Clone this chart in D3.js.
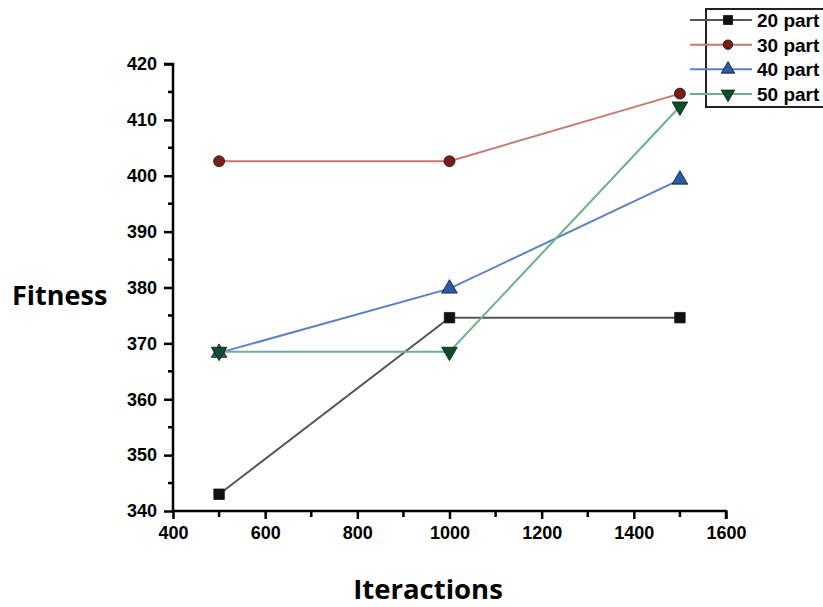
<!DOCTYPE html>
<html>
<head>
<meta charset="utf-8">
<script src="https://cdn.jsdelivr.net/npm/d3@7"></script>
<style>
  body { margin: 0; background: #fff; }
  svg { display: block; }
</style>
</head>
<body>
<svg id="chart" width="823" height="607"></svg>
<script>
// iterations on x, fitness on y
var iterations = [500, 1000, 1500];
var fit20 = [343.0, 374.6, 374.6];
var fit30 = [402.6, 402.6, 414.7];
var fit40 = [368.3, 379.8, 399.3];
var fit50 = [368.5, 368.5, 412.4];
var seriesNames = ["20 part", "30 part", "40 part", "50 part"];
var xTicks = [400, 600, 800, 1000, 1200, 1400, 1600];
var yTicks = [340, 350, 360, 370, 380, 390, 400, 410, 420];

var series = [
  { name: seriesNames[0], values: fit20, line: "#555555", fill: "#111111", sym: d3.symbolSquare, size: 110, rot: 0 },
  { name: seriesNames[1], values: fit30, line: "#c57a74", fill: "#7e1d17", sym: d3.symbolCircle, size: 95, rot: 0 },
  { name: seriesNames[2], values: fit40, line: "#5a82c4", fill: "#2a5aa8", sym: d3.symbolTriangle, size: 105, rot: 0 },
  { name: seriesNames[3], values: fit50, line: "#6fae8e", fill: "#0c4f26", sym: d3.symbolTriangle, size: 105, rot: 180 }
];

var svg = d3.select("#chart");
var x = d3.scaleLinear().domain([400, 1600]).range([173, 726]);
var y = d3.scaleLinear().domain([340, 420]).range([511, 64]);

// axes
var xAxis = svg.append("g").attr("transform", "translate(0,511)")
  .call(d3.axisBottom(x).tickValues(xTicks).tickSize(8).tickPadding(7).tickFormat(d3.format("d")));
var yAxis = svg.append("g").attr("transform", "translate(173,0)")
  .call(d3.axisLeft(y).tickValues(yTicks).tickSize(9).tickPadding(7).tickFormat(d3.format("d")));

[xAxis, yAxis].forEach(function(g) {
  g.select(".domain").attr("stroke", "#000").attr("stroke-width", 2.5);
  g.selectAll(".tick line").attr("stroke", "#000").attr("stroke-width", 2.5);
  g.selectAll(".tick text").attr("fill", "#000")
    .style("font-family", "Liberation Sans, Arial, sans-serif")
    .style("font-size", "18px").style("font-weight", "bold");
});
yAxis.select(".domain").attr("d", "M0," + y(340) + "V" + y(420) + "H-9");
xAxis.select(".domain").attr("d", "M" + x(400) + ",0H" + x(1600) + "V8");

// minor ticks
var xMinor = d3.range(500, 1600, 200);
svg.append("g").selectAll("line").data(xMinor).enter().append("line")
  .attr("x1", d => x(d)).attr("x2", d => x(d))
  .attr("y1", 511).attr("y2", 517)
  .attr("stroke", "#000").attr("stroke-width", 2.5);
var yMinor = d3.range(345, 420, 10);
svg.append("g").selectAll("line").data(yMinor).enter().append("line")
  .attr("x1", 168).attr("x2", 173)
  .attr("y1", d => y(d)).attr("y2", d => y(d))
  .attr("stroke", "#000").attr("stroke-width", 2.5);

// lines
var line = d3.line().x((d, i) => x(iterations[i])).y(d => y(d));
series.forEach(function(s) {
  svg.append("path").datum(s.values)
    .attr("d", line).attr("fill", "none")
    .attr("stroke", s.line).attr("stroke-width", 2);
});
series.forEach(function(s) {
  svg.append("g").selectAll("path").data(s.values).enter().append("path")
    .attr("d", d3.symbol().type(s.sym).size(s.size))
    .attr("transform", (d, i) => "translate(" + x(iterations[i]) + "," + y(d) + ") rotate(" + s.rot + ")")
    .attr("fill", s.fill).attr("stroke", "#0a1a10").attr("stroke-width", 0.8);
});

// legend
var leg = svg.append("g");
leg.append("rect").attr("x", 706).attr("y", 9).attr("width", 130).attr("height", 98)
  .attr("fill", "#fff").attr("stroke", "#222").attr("stroke-width", 2);
var legY = d3.scalePoint().domain(seriesNames).range([20, 94]);
series.forEach(function(s) {
  var ly = legY(s.name);
  leg.append("line").attr("x1", 690).attr("x2", 752).attr("y1", ly).attr("y2", ly)
    .attr("stroke", s.line).attr("stroke-width", 2);
  leg.append("path")
    .attr("d", d3.symbol().type(s.sym).size(s.size * 0.75))
    .attr("transform", "translate(728," + ly + ") rotate(" + s.rot + ")")
    .attr("fill", s.fill).attr("stroke", "#0a1a10").attr("stroke-width", 0.8);
  leg.append("text").attr("x", 757).attr("y", ly + 7).text(s.name)
    .style("font-family", "Liberation Sans, Arial, sans-serif")
    .style("font-size", "19px").style("font-weight", "bold").attr("fill", "#000");
});

// axis titles
svg.append("text").attr("x", 12).attr("y", 305).text("Fitness")
  .style("font-family", "Open Sans, sans-serif").style("font-size", "27px").style("font-weight", "bold");
svg.append("text").attr("x", 428).attr("y", 599).attr("text-anchor", "middle").text("Iteractions")
  .style("font-family", "Open Sans, sans-serif").style("font-size", "27.5px").style("font-weight", "bold");
</script>
</body>
</html>
